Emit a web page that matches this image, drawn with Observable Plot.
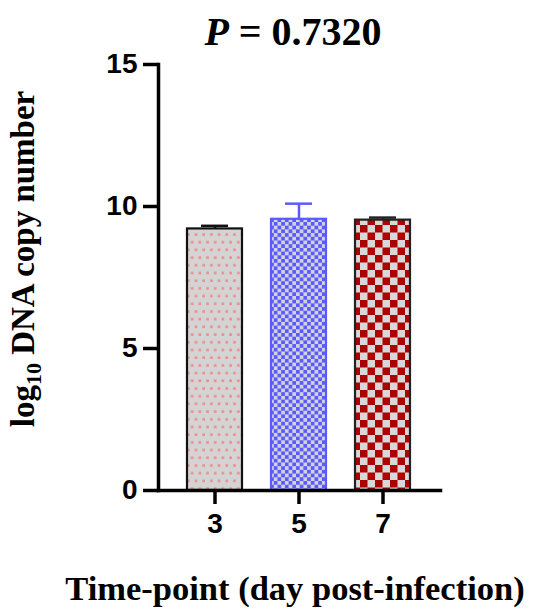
<!DOCTYPE html>
<html>
<head>
<meta charset="utf-8">
<script src="https://cdn.jsdelivr.net/npm/d3@7"></script>
<script src="https://cdn.jsdelivr.net/npm/@observablehq/plot@0.6"></script>
<style>
  html, body { margin: 0; padding: 0; background: #fff; }
  #chart { width: 537px; height: 610px; }
</style>
</head>
<body>
<div id="chart"></div>
<script>
// ---- data ----
const days = ["3", "5", "7"];
const means = [9.21, 9.55, 9.52];
const errors = [0.11, 0.55, 0.09];
const yTicks = [0, 5, 10, 15];
const titleText = "0.7320";
const xLabel = "Time-point (day post-infection)";

// ---- styles ----
const barFills = ["url(#pDots)", "url(#pBlue)", "url(#pRed)"];
const barStrokes = ["#111", "#5a5aff", "#222"];

const table = days.map((d, i) => ({
  day: d, mean: means[i], upper: means[i] + errors[i],
  fill: barFills[i], stroke: barStrokes[i]
}));

const plot = Plot.plot({
  width: 537,
  height: 610,
  marginLeft: 158,
  marginRight: 97,
  marginTop: 64,
  marginBottom: 120,
  style: { fontFamily: "'Liberation Sans', Arial, sans-serif", background: "#fff", overflow: "visible" },
  x: { domain: days, padding: 0.34, label: null },
  y: { domain: [0, 15], label: null },
  color: { type: "identity" },
  marks: [
    Plot.ruleX(table, { x: "day", y1: "mean", y2: "upper", stroke: "stroke", strokeWidth: 2.5 }),
    Plot.tickY(table, { x: "day", y: "upper", stroke: "stroke", strokeWidth: 2.5, insetLeft: 14, insetRight: 14 }),
    Plot.barY(table, { x: "day", y: "mean", fill: "fill", stroke: "stroke", strokeWidth: 2.2 }),
    Plot.axisY({ ticks: yTicks, tickSize: 15, tickPadding: 6, fontSize: 27, fontWeight: "bold", strokeWidth: 3.5, label: null, stroke: "#000", fill: "#000" }),
    Plot.axisX({ tickSize: 14, tickPadding: 9, fontSize: 27, fontWeight: "bold", strokeWidth: 3.5, label: null, stroke: "#000", fill: "#000" }),
    Plot.frame({ anchor: "left", strokeWidth: 3.5, stroke: "#000" }),
    Plot.frame({ anchor: "bottom", strokeWidth: 3.5, stroke: "#000" })
  ]
});

const svg = d3.select(plot);
// force tick label font
svg.selectAll("text")
  .style("font-size", "28px")
  .style("font-weight", "bold")
  .style("font-family", "'Liberation Sans', Arial, sans-serif");

const defs = svg.insert("defs", ":first-child");

// dotted pattern (grey with pink dots)
const dotC = "#f28a8a";
const pd = defs.append("pattern").attr("id", "pDots").attr("patternUnits", "userSpaceOnUse")
  .attr("width", 15.4).attr("height", 15.4);
pd.append("rect").attr("width", 15.4).attr("height", 15.4).attr("fill", "#d4d4d4");
[[2.2, 2.2], [9.9, 2.2], [6.05, 9.9], [-1.65, 9.9], [13.75, 9.9]].forEach(([x, y]) =>
  pd.append("rect").attr("x", x).attr("y", y).attr("width", 2.6).attr("height", 2.6).attr("fill", dotC));

// small blue checker
const pb = defs.append("pattern").attr("id", "pBlue").attr("patternUnits", "userSpaceOnUse")
  .attr("width", 7.4).attr("height", 7.4);
pb.append("rect").attr("width", 7.4).attr("height", 7.4).attr("fill", "#d2d2dc");
pb.append("rect").attr("width", 3.7).attr("height", 3.7).attr("fill", "#5a5aff");
pb.append("rect").attr("x", 3.7).attr("y", 3.7).attr("width", 3.7).attr("height", 3.7).attr("fill", "#5a5aff");

// large red checker
const pr = defs.append("pattern").attr("id", "pRed").attr("patternUnits", "userSpaceOnUse")
  .attr("width", 15).attr("height", 15);
pr.append("rect").attr("width", 15).attr("height", 15).attr("fill", "#d8d8d8");
pr.append("rect").attr("width", 7.5).attr("height", 7.5).attr("fill", "#ad0000");
pr.append("rect").attr("x", 7.5).attr("y", 7.5).attr("width", 7.5).attr("height", 7.5).attr("fill", "#ad0000");

const serif = "'Liberation Serif', 'Times New Roman', serif";

// title
const t = svg.append("text").attr("x", 293).attr("y", 45).attr("text-anchor", "middle")
  .attr("font-family", serif).attr("font-weight", "bold").attr("font-size", 40).attr("fill", "#000");
t.append("tspan").attr("font-style", "italic").text("P");
t.append("tspan").text(" = " + titleText);

// y label
const yl = svg.append("text").attr("transform", "translate(34,259) rotate(-90)").attr("text-anchor", "middle")
  .attr("font-family", serif).attr("font-weight", "bold").attr("font-size", 33).attr("fill", "#000");
yl.append("tspan").text("log");
yl.append("tspan").attr("font-size", 22).attr("dy", 7).text("10");
yl.append("tspan").attr("dy", -7).text(" DNA copy number");

// x label
svg.append("text").attr("x", 295).attr("y", 600).attr("text-anchor", "middle")
  .attr("font-family", serif).attr("font-weight", "bold").attr("font-size", 34.5).attr("fill", "#000")
  .text(xLabel);

document.getElementById("chart").appendChild(plot);
</script>
</body>
</html>
